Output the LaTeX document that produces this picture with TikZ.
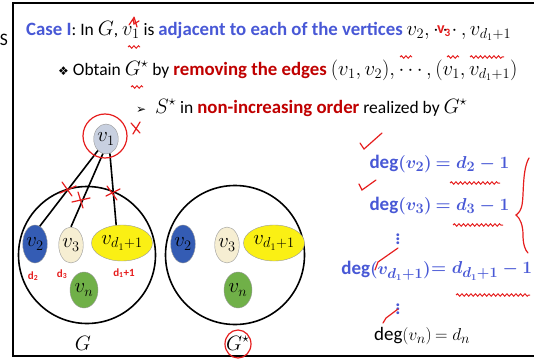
\documentclass[tikz,border=0pt]{standalone}
\usepackage{fontspec}
\setmainfont{Carlito}
\newfontfamily\dejavu{DejaVu Sans}
\usetikzlibrary{shapes.geometric,decorations.pathmorphing}
\definecolor{blueT}{RGB}{72,88,214}
\definecolor{redT}{RGB}{192,0,0}
\definecolor{annot}{RGB}{230,30,30}
\definecolor{vgrey}{RGB}{200,208,224}
\definecolor{vblue}{RGB}{52,92,180}
\definecolor{vcream}{RGB}{246,238,210}
\definecolor{vyellow}{RGB}{250,240,20}
\definecolor{vgreen}{RGB}{112,176,72}
\newcommand{\bl}[1]{\textcolor{blueT}{\fontsize{18.8}{20}\selectfont\bfseries #1}}
\newcommand{\rd}[1]{\textcolor{redT}{\fontsize{18.8}{20}\selectfont\bfseries #1}}
\newcommand{\mm}[1]{{\fontsize{20}{20}\selectfont$#1$}}
\tikzset{
  txt/.style={inner sep=0pt, anchor=west},
  vert/.style={ellipse, draw=black!40, line width=0.4pt, inner sep=0pt},
  bigc/.style={circle, draw=black, line width=1.6pt, inner sep=0pt},
  edge/.style={line width=1.6pt},
  red mark/.style={draw=annot, line width=1.2pt, line cap=round},
  wavy/.style={draw=annot, line width=1pt, decorate, decoration={snake, amplitude=1.2pt, segment length=4.5pt}},
  rlab/.style={text=annot, font=\fontsize{11}{12}\selectfont\bfseries, inner sep=0pt},
  eq/.style={inner sep=0pt, text=blueT, font=\fontsize{19}{22}\selectfont\bfseries\boldmath},
}
\begin{document}
\begin{tikzpicture}[x=1pt,y=-1pt,font=\fontsize{17.5}{20}\selectfont]
\useasboundingbox (0,0) rectangle (534,358);
\fill[white] (0,0) rectangle (534,358);
\draw[line width=1.4pt] (534,3) -- (13,3) -- (13,356) -- (534,356);
\node[inner sep=0pt, anchor=east] (s) at (8,40) {S};
% text lines
\node[txt] (l1) at (26,31) {\bl{Case I}: In \mm{G}, \mm{v_1} is \bl{adjacent to each of the vertices} \mm{v_2, \cdots, v_{d_1+1}}};
\node[txt] (l2) at (58,70) {{\dejavu\fontsize{12}{14}\selectfont ❖} Obtain \mm{G^\star} by \rd{removing the edges} \mm{(v_1,v_2),\cdots,(v_1,v_{d_1+1})}};
\node[txt] (l3) at (136,108) {{\dejavu\fontsize{12}{14}\selectfont ➢}\enspace \mm{S^\star} in \rd{non-increasing order} realized by \mm{G^\star}};
% graph G
\node[bigc, minimum size=137pt] (G) at (87,255) {};
\node[vert, fill=vgrey, minimum width=24pt, minimum height=30pt] (v1) at (106,139) {\mm{v_1}};
\node[vert, fill=vblue, minimum width=21pt, minimum height=38pt] (v2) at (35,244) {\mm{v_2}};
\node[vert, fill=vcream, minimum width=23pt, minimum height=36pt] (v3) at (71,245) {\mm{v_3}};
\node[vert, fill=vyellow, minimum width=61pt, minimum height=36pt] (vd) at (122,243) {\mm{v_{d_1+1}}};
\node[vert, fill=vgreen, minimum width=28pt, minimum height=36pt] (vn) at (84,290) {\mm{v_n}};
\draw[edge] (v1.235) -- (v2.75);
\draw[edge] (v1.258) -- (v3.90);
\draw[edge] (v1.285) -- (vd.108);
\node[inner sep=0pt] (Gl) at (83,343) {\mm{G}};
% graph G*
\node[bigc, minimum size=139pt] (Gs) at (235,255) {};
\node[vert, fill=vblue, minimum width=21pt, minimum height=38pt] (w2) at (183,244) {\mm{v_2}};
\node[vert, fill=vcream, minimum width=23pt, minimum height=36pt] (w3) at (227,245) {\mm{v_3}};
\node[vert, fill=vyellow, minimum width=61pt, minimum height=36pt] (wd) at (274,243) {\mm{v_{d_1+1}}};
\node[vert, fill=vgreen, minimum width=28pt, minimum height=36pt] (wn) at (238,290) {\mm{v_n}};
\node[inner sep=0pt] (Gsl) at (238,343) {\mm{G^\star}};
% equations
\node[eq, anchor=east] (e1l) at (432,164) {deg$(v_2)$};
\node[eq, anchor=west] (e1r) at (432,164) {$\,=d_2-1$};
\node[eq, anchor=east] (e2l) at (432,206) {deg$(v_3)$};
\node[eq, anchor=west] (e2r) at (432,206) {$\,=d_3-1$};
\node[eq] (dots1) at (398,236) {$\vdots$};
\node[eq, anchor=east] (e3l) at (431,271) {deg$(v_{d_1+1})$};
\node[eq, anchor=west] (e3r) at (431,271) {$=d_{d_1+1}-1$};
\node[eq] (dots2) at (398,306) {$\vdots$};
\node[inner sep=0pt, anchor=east, font=\fontsize{19}{22}\selectfont] (e4l) at (432,336) {deg$(v_n)$};
\node[inner sep=0pt, anchor=west, font=\fontsize{19}{22}\selectfont] (e4r) at (432,336) {$\,=d_n$};
% red annotations
\node[circle, draw=annot, line width=1.2pt, minimum size=44pt, inner sep=0pt] (c1) at (105,136) {};
\node[ellipse, draw=annot, line width=1.2pt, minimum width=26pt, minimum height=28pt, inner sep=0pt] (c2) at (238,344) {};
\draw[red mark] (62,182) -- (72,196) (60,193) -- (76,186);
\draw[red mark] (78,192) -- (83,208) (72,202) -- (90,198);
\draw[red mark] (107,186) -- (117,200) (106,196) -- (120,189);
\draw[red mark] (131,123) -- (140,133) (133,134) -- (140,122);
\node[rlab] (d2) at (33,276) {d\textsubscript{2}};
\node[rlab] (d3) at (62,274) {d\textsubscript{3}};
\node[rlab] (d1) at (124,273) {d\textsubscript{1}+1};
\draw[red mark] (360,143) -- (364,149) -- (382,133);
\draw[red mark] (359,184) -- (362,190) -- (376,180);
\draw[red mark] (375,270) -- (378,262) -- (398,248);
\draw[red mark] (383,323) -- (386,318) -- (398,309);
\draw[wavy] (450,183) -- (500,183);
\draw[wavy] (453,225) -- (503,225);
\draw[wavy] (456,295) -- (530,295);
\draw[wavy] (128,47) -- (140,47);
\draw[wavy] (131,87) -- (143,87);
\draw[wavy] (400,57) -- (412,57);
\draw[wavy] (447,57) -- (459,57);
\draw[wavy] (470,57) -- (504,57);
\draw[red mark] (529,158) .. controls (522,170) and (524,195) .. (522,205) .. controls (521,210) and (519,213) .. (516,215) .. controls (520,218) and (523,225) .. (523,235) .. controls (523,244) and (525,250) .. (528,253);
\draw[red mark] (129,25) -- (133,19) -- (134,24) -- (139,21) (134,17) -- (137,27);
\node[text=annot, inner sep=0pt, font=\fontsize{16}{16}\selectfont\bfseries] (v3a) at (444,31) {v\textsubscript{3}};
\end{tikzpicture}
\end{document}
